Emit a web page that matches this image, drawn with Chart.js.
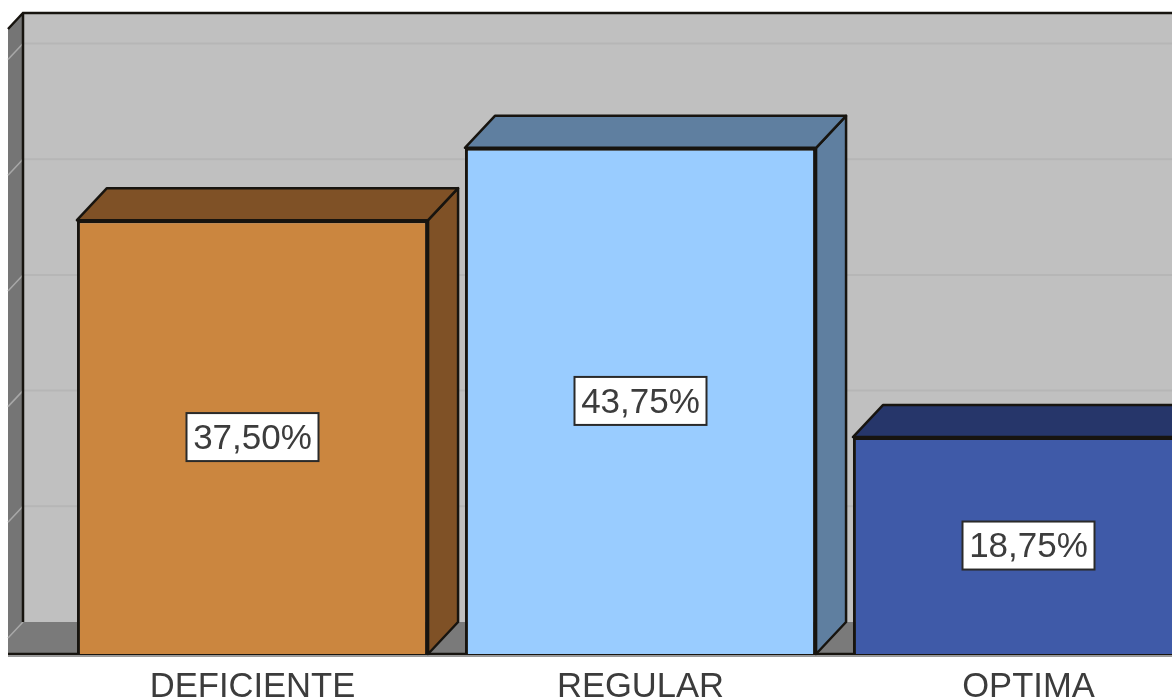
<!DOCTYPE html>
<html>
<head>
<meta charset="utf-8">
<title>Chart</title>
<script src="https://cdn.jsdelivr.net/npm/chart.js@4/dist/chart.umd.min.js"></script>
<style>
    html, body { margin: 0; padding: 0; background: #fff; overflow: hidden; width: 1172px; height: 698px; }
    canvas { display: block; filter: blur(0.55px); }
</style>
</head>
<body>
<canvas id="bars" width="1300" height="698"></canvas>
<script>
const categories = ["DEFICIENTE", "REGULAR", "OPTIMA"];
const percentages = [37.5, 43.75, 18.75];

const frontColors = ["#CB863F", "#99CCFF", "#3F5AA8"];
const sideColors = ["#7F5126", "#5F7FA0", "#26366A"];
const edgeColor = "#17140f";
const depthX = 30;
const depthY = 32;
const wallClipX = 8;

function polygon(ctx, pts, fill, stroke) {
    ctx.beginPath();
    pts.forEach((p, i) => i ? ctx.lineTo(p[0], p[1]) : ctx.moveTo(p[0], p[1]));
    ctx.closePath();
    ctx.fillStyle = fill;
    ctx.fill();
    if (stroke) {
        ctx.strokeStyle = stroke;
        ctx.lineWidth = 2.5;
        ctx.lineJoin = "round";
        ctx.stroke();
    }
}

// back wall, floor and the depth faces of each bar
const room3d = {
    id: "room3d",
    beforeDatasetsDraw(chart) {
        const ctx = chart.ctx;
        const y = chart.scales.y;
        const base = y.getPixelForValue(0);
        const top = y.top;
        const backX = wallClipX + 15;
        const right = chart.width;
        ctx.save();

        // back wall
        polygon(ctx, [[backX, top - depthY], [right, top - depthY], [right, base - depthY], [backX, base - depthY]], "#C0C0C0");
        // left wall
        polygon(ctx, [[wallClipX, top - depthY + 16], [backX, top - depthY], [backX, base - depthY], [wallClipX, base - depthY + 16]], "#757575");
        // floor
        polygon(ctx, [[wallClipX, base], [wallClipX, base - depthY + 16], [backX, base - depthY], [right, base - depthY], [right, base]], "#7A7A7A");

        // grid lines, back wall then the slant on the left wall
        y.ticks.filter(t => t.value % 10 === 0).forEach(t => {
            const py = y.getPixelForValue(t.value) - depthY;
            if (t.value > 0) {
                ctx.strokeStyle = "#B6B6B6";
                ctx.lineWidth = 2;
                ctx.beginPath();
                ctx.moveTo(backX, py);
                ctx.lineTo(right, py);
                ctx.stroke();
            }
            ctx.strokeStyle = "#A8A8A8";
            ctx.lineWidth = 1.5;
            ctx.beginPath();
            ctx.moveTo(backX, py);
            ctx.lineTo(wallClipX, py + 16);
            ctx.stroke();
        });

        // room outlines
        ctx.strokeStyle = edgeColor;
        ctx.lineWidth = 2.5;
        ctx.beginPath();
        ctx.moveTo(wallClipX, top - depthY + 16);
        ctx.lineTo(backX, top - depthY);
        ctx.lineTo(right, top - depthY);
        ctx.moveTo(backX, top - depthY);
        ctx.lineTo(backX, base - depthY);
        ctx.moveTo(wallClipX, base);
        ctx.lineTo(right, base);
        ctx.stroke();
        ctx.strokeStyle = "#9A9A9A";
        ctx.lineWidth = 2;
        ctx.beginPath();
        ctx.moveTo(wallClipX, base + 2);
        ctx.lineTo(right, base + 2);
        ctx.stroke();

        // depth faces
        chart.getDatasetMeta(0).data.forEach((bar, i) => {
            const l = bar.x - bar.width / 2;
            const r = bar.x + bar.width / 2;
            polygon(ctx, [[r, bar.y], [r + depthX, bar.y - depthY], [r + depthX, bar.base - depthY], [r, bar.base]], sideColors[i], edgeColor);
            polygon(ctx, [[l, bar.y], [l + depthX, bar.y - depthY], [r + depthX, bar.y - depthY], [r, bar.y]], sideColors[i], edgeColor);
        });
        ctx.restore();
    }
};

// white value boxes in the middle of the bars
const valueBoxes = {
    id: "valueBoxes",
    afterDatasetsDraw(chart) {
        const ctx = chart.ctx;
        ctx.save();
        ctx.font = "35px 'Liberation Sans'";
        ctx.textAlign = "center";
        ctx.textBaseline = "middle";
        chart.getDatasetMeta(0).data.forEach((bar, i) => {
            const cy = (bar.y + bar.base) / 2;
            ctx.fillStyle = "#fff";
            ctx.strokeStyle = "#2a2a2a";
            ctx.lineWidth = 2;
            ctx.fillRect(bar.x - 66, cy - 24, 132, 48);
            ctx.strokeRect(bar.x - 66, cy - 24, 132, 48);
            ctx.fillStyle = "#3c3c3c";
            ctx.fillText(percentages[i].toFixed(2).replace(".", ",") + "%", bar.x, cy + 2);
        });
        ctx.restore();
    }
};

new Chart(document.getElementById("bars"), {
    type: "bar",
    data: {
        labels: categories,
        datasets: [{
            data: percentages,
            backgroundColor: frontColors,
            borderColor: edgeColor,
            borderWidth: 3,
            categoryPercentage: 0.905,
            barPercentage: 1
        }]
    },
    options: {
        responsive: false,
        animation: false,
        layout: { padding: { left: 58.5, right: 77.5, top: 45, bottom: 0 } },
        plugins: { legend: { display: false }, tooltip: { enabled: false } },
        scales: {
            x: {
                grid: { display: false },
                border: { display: false },
                ticks: { color: "#3c3c3c", padding: 5, maxRotation: 0, font: { family: "'Liberation Sans'", size: 34.6 } },
                afterFit(scale) { scale.height = 44; }
            },
            y: {
                display: false,
                min: 0,
                max: 52.64,
                ticks: { stepSize: 10 }
            }
        }
    },
    plugins: [room3d, valueBoxes]
});
</script>
</body>
</html>
